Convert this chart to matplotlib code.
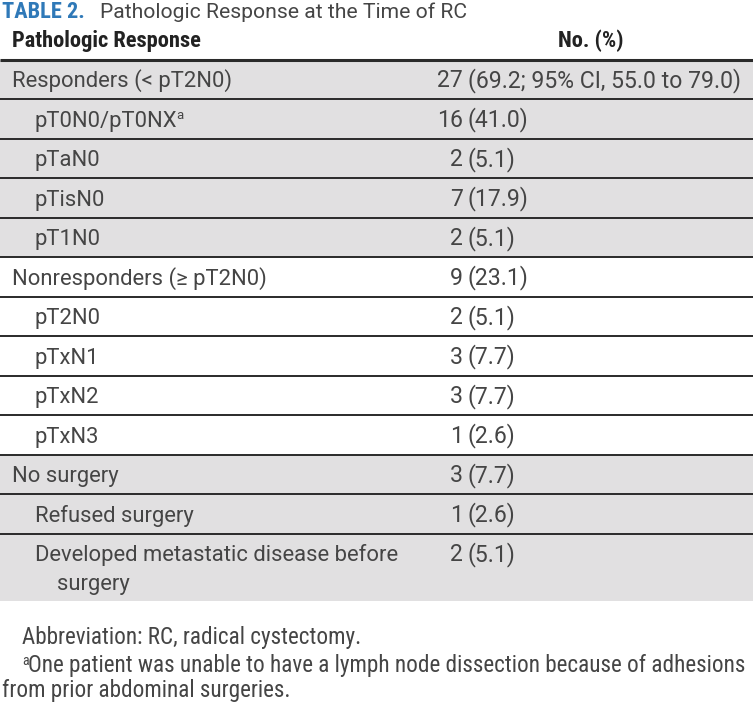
import matplotlib
matplotlib.use("Agg")
import matplotlib.pyplot as plt
from matplotlib import font_manager as fm

# ---------------- data ----------------
title_tag = "TABLE 2."
title_text = "Pathologic Response at the Time of RC"
col_headers = ["Pathologic Response", "No. (%)"]
labels = [
    "Responders (< pT2N0)", "pT0N0/pT0NX", "pTaN0", "pTisN0", "pT1N0",
    "Nonresponders (\u2265 pT2N0)", "pT2N0", "pTxN1", "pTxN2", "pTxN3",
    "No surgery", "Refused surgery", "Developed metastatic disease before\nsurgery",
]
levels = [0, 1, 1, 1, 1, 0, 1, 1, 1, 1, 0, 1, 1]
groups = [0, 0, 0, 0, 0, 1, 1, 1, 1, 1, 2, 2, 2]
counts = [27, 16, 2, 7, 2, 9, 2, 3, 3, 1, 3, 1, 2]
pcts = ["69.2; 95% CI, 55.0 to 79.0", "41.0", "5.1", "17.9", "5.1", "23.1",
        "5.1", "7.7", "7.7", "2.6", "7.7", "2.6", "5.1"]
label_marks = ["", "a", "", "", "", "", "", "", "", "", "", "", ""]
footnote_abbrev = "Abbreviation: RC, radical cystectomy."
footnote_mark = "a"
footnote_lines = ["One patient was unable to have a lymph node dissection because of adhesions",
                  "from prior abdominal surgeries."]

# ---------------- fonts ----------------
def pick(names):
    for n in names:
        try:
            fm.findfont(fm.FontProperties(family=n), fallback_to_default=False)
            return n
        except Exception:
            pass
    return "DejaVu Sans"

BODY = pick(["Roboto", "Liberation Sans", "DejaVu Sans"])
NARROW = pick(["Roboto Condensed", "Liberation Sans Narrow", "Liberation Sans"])

W, H = 753, 708
fig = plt.figure(figsize=(W / 100, H / 100), dpi=100)
ax = fig.add_axes([0, 0, 1, 1])
ax.set_xlim(0, W)
ax.set_ylim(H, 0)
ax.axis("off")
renderer = fig.canvas.get_renderer()

def fit(text, family, weight, target, base=14):
    t = ax.text(0, 0, text, family=family, weight=weight, fontsize=base)
    w = t.get_window_extent(renderer=renderer).width
    t.remove()
    return base * target / w

s_body = fit(labels[0], BODY, "normal", 221)
s_val = fit("(" + pcts[0] + ")", BODY, "normal", 742 - 468)
s_head = fit(col_headers[0], NARROW, "bold", 190)
s_tag = fit(title_tag, NARROW, "bold", 83)
s_title = fit(title_text, BODY, "normal", 368)
s_foot = fit(footnote_lines[0], NARROW, "normal", 721)

body_col = "#454545"
gray = "#e1e0e1"
line_col = "#2a2a2a"

# ---------------- title ----------------
ax.text(2, 18.5, title_tag, family=NARROW, weight="bold", fontsize=s_tag,
        color="#2f79b8", va="baseline", ha="left")
ax.text(100, 18.5, title_text, family=BODY, fontsize=s_title, color="#454545",
        va="baseline", ha="left")

# ---------------- header ----------------
ax.text(12, 47.5, col_headers[0], family=NARROW, weight="bold", fontsize=s_head,
        color="#222222", va="baseline", ha="left")
ax.text(591, 47.5, col_headers[1], family=NARROW, weight="bold", fontsize=s_head,
        color="#222222", va="baseline", ha="center")

# ---------------- rows ----------------
top = 59.5
row_h = 39.5
line_h = 28.5
base_off = row_h / 2 + 7.8
count_right = 463
y = top
bounds = []
for i, lab in enumerate(labels):
    nlines = lab.count("\n") + 1
    h = row_h + (nlines - 1) * 27.5
    if groups[i] % 2 == 0:
        ax.fill_between([0, W], y, y + h, color=gray, lw=0, zorder=0)
    x0 = 12 if levels[i] == 0 else 35
    for k, part in enumerate(lab.split("\n")):
        ty = y + base_off + k * line_h
        t = ax.text(x0 + (22 if k > 0 else 0), ty, part, family=BODY,
                    fontsize=s_body, color=body_col, va="baseline", ha="left")
        if k == 0 and label_marks[i]:
            bb = t.get_window_extent(renderer=renderer)
            ax.text(bb.x1 - 1, ty - 8, label_marks[i], family=BODY,
                    fontsize=s_body * 0.6, color=body_col, va="baseline", ha="left")
    ax.text(count_right, y + base_off, str(counts[i]), family=BODY,
            fontsize=s_val, color=body_col, va="baseline", ha="right")
    ax.text(count_right + 5, y + base_off, "(" + pcts[i] + ")", family=BODY,
            fontsize=s_val, color=body_col, va="baseline", ha="left")
    bounds.append(y)
    y += h

# lines
ax.plot([0, W], [top, top], color=line_col, lw=2.2, solid_capstyle="butt")
for b in bounds[1:]:
    ax.plot([0, W], [b, b], color=line_col, lw=1.4, solid_capstyle="butt")

# ---------------- footnotes ----------------
ax.text(22, 644, footnote_abbrev, family=NARROW, fontsize=s_foot,
        color=body_col, va="baseline", ha="left")
ax.text(22, 665, footnote_mark, family=NARROW, fontsize=s_foot * 0.6,
        color=body_col, va="baseline", ha="left")
ax.text(28, 672, footnote_lines[0], family=NARROW, fontsize=s_foot,
        color=body_col, va="baseline", ha="left")
ax.text(2, 697, footnote_lines[1], family=NARROW, fontsize=s_foot,
        color=body_col, va="baseline", ha="left")

fig.savefig("out.png", dpi=100, facecolor="white")
